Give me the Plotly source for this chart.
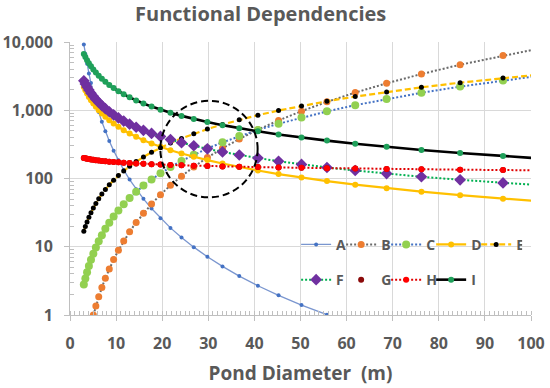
import plotly.graph_objects as go

# ---------------- data ----------------
diameter_m = [3.00, 3.33, 3.70, 4.10, 4.55, 5.06, 5.61, 6.23, 6.91, 7.67, 8.52, 9.46,
              10.50, 11.65, 12.93, 14.35, 15.93, 17.69, 19.63, 21.79, 24.19, 26.85,
              29.80, 33.08, 36.72, 40.76, 45.24, 50.22, 55.74, 61.87, 68.68, 76.23,
              84.62, 93.93, 104.26]

series_A = [9200, 6643, 4797, 3464, 2501, 1806, 1304, 941.8, 680.1, 491.1, 354.6, 256.1,
            184.9, 133.5, 96.4, 69.6, 50.3, 36.3, 26.2, 18.9, 13.7, 9.87, 7.13, 5.15,
            3.72, 2.68, 1.94, 1.40, 1.01, None, None, None, None, None, None]

series_B = [None, None, None, None, None, 1.0, 1.35, 1.85, 2.53, 3.46, 4.74, 6.48,
            8.86, 12.1, 16.6, 22.7, 31.0, 42.4, 58.0, 79.3, 108, 148, 203, 277,
            379, 519, 710, 970, 1327, 1815, 2482, 3395, 4643, 6350, 8684]

series_C = [2.79, 3.44, 4.24, 5.22, 6.43, 7.92, 9.76, 12.0, 14.8, 18.3, 22.5, 27.7,
            34.1, 42.1, 51.8, 63.9, 78.7, 97.0, 119, 147, 181, 223, 275, 339,
            418, 515, 634, 782, 963, 1187, 1462, 1802, 2220, 2735, 3370]

series_D = [2200, 1966, 1757, 1570, 1403, 1254, 1121, 1002, 895, 800, 715, 639,
            571, 510, 456, 408, 364, 326, 291, 260, 232, 208, 186, 166,
            147, 131, 116, 103, 91.6, 81.3, 72.2, 64.1, 56.9, 50.5, 44.9]

series_E = [16.9, 19.8, 23.1, 27.0, 31.6, 37.0, 43.2, 50.6, 59.1, 69.2, 80.9, 94.6,
            111, 129, 151, 177, 207, 242, 283, 331, 387, 453, 530, 619,
            724, 847, 991, 1159, 1355, 1585, 1853, 2167, 2535, 2964, 3467]

series_F = [2700, 2432, 2191, 1974, 1778, 1602, 1443, 1300, 1172, 1056, 951, 856,
            771, 695, 626, 564, 508, 458, 413, 372, 335, 302, 272, 245,
            221, 199, 179, 161, 145, 131, 118, 106, 95.7, 86.2, 77.7]

series_G = [200, 197.5, 195.1, 192.7, 190.3, 188.0, 185.7, 183.4, 181.1, 178.9, 176.7, 174.5,
            172.4, 170.3, 168.2, 166.1, 164.1, 162.1, 160.1, 158.1, 156.2, 154.2, 152.3, 150.5,
            148.6, 146.8, 145.0, 143.2, 141.4, 139.7, 138.0, 136.3, 134.6, 133.0, 131.3]

series_H = [200, 197.5, 195.1, 192.7, 190.3, 188.0, 185.7, 183.4, 181.1, 178.9, 176.7, 174.5,
            172.4, 170.3, 168.2, 166.1, 164.1, 162.1, 160.1, 158.1, 156.2, 154.2, 152.3, 150.5,
            148.6, 146.8, 145.0, 143.2, 141.4, 139.7, 138.0, 136.3, 134.6, 133.0, 131.3]

series_I = [6667, 6006, 5405, 4878, 4396, 3953, 3565, 3210, 2894, 2608, 2347, 2114,
            1905, 1717, 1547, 1394, 1255, 1131, 1019, 918, 827, 745, 671, 605,
            545, 491, 442, 398, 359, 323, 291, 262, 236, 213, 192]

series_names = ["A", "B", "C", "D", "E", "F", "G", "H", "I"]

y_tick_values = [1, 10, 100, 1000, 10000]
y_tick_labels = ["1", "10", "100", "1,000", "10,000"]

title_text = "Functional Dependencies"
x_title_text = "Pond Diameter\u00a0 (m)"

# circle highlight (data coordinates)
circle_x = [19.6, 40.7]
circle_y = [52.9, 1374]

# ---------------- styling ----------------
FONT = "Open Sans"
GREY = "#595959"

styles = {
    "A": dict(mode="lines+markers", line=dict(color="#7A96CF", width=1.3),
              marker=dict(color="#4472C4", size=4, symbol="circle"), legend="legend"),
    "B": dict(mode="lines+markers", line=dict(color="#6B6B6B", width=2, dash="2px,2px"),
              marker=dict(color="#ED7D31", size=7, symbol="circle"), legend="legend"),
    "C": dict(mode="lines+markers", line=dict(color="#4472C4", width=2, dash="2px,2px"),
              marker=dict(color="#92D050", size=8, symbol="circle"), legend="legend"),
    "D": dict(mode="lines+markers", line=dict(color="#FFC000", width=2.2),
              marker=dict(color="#FFC000", size=6, symbol="circle"), legend="legend"),
    "E": dict(mode="lines+markers", line=dict(color="#FFC000", width=2.2, dash="6px,3px"),
              marker=dict(color="#000000", size=5, symbol="circle"), legend="legend"),
    "F": dict(mode="lines+markers", line=dict(color="#00B050", width=2, dash="2px,2px"),
              marker=dict(color="#7030A0", size=9, symbol="diamond"), legend="legend2"),
    "G": dict(mode="markers",
              marker=dict(color="#8B0A0A", size=6, symbol="circle"), legend="legend2"),
    "H": dict(mode="lines+markers", line=dict(color="#E00000", width=2, dash="2px,2px"),
              marker=dict(color="#FF0000", size=6, symbol="circle"), legend="legend2"),
    "I": dict(mode="lines+markers", line=dict(color="#000000", width=2.6),
              marker=dict(color="#1FA05A", size=6, symbol="circle"), legend="legend2"),
}

all_series = [series_A, series_B, series_C, series_D, series_E,
              series_F, series_G, series_H, series_I]

fig = go.Figure()
for name, values in zip(series_names, all_series):
    fig.add_trace(go.Scatter(x=diameter_m, y=values, name=name, connectgaps=False,
                             hoverinfo="x+y+name", **styles[name]))

tick_font = dict(family=FONT, size=16, color=GREY, weight="bold")

minor_y = [m * d for d in (1, 10, 100, 1000) for m in range(2, 10)]

fig.update_xaxes(
    range=[0, 100], dtick=10, tick0=0,
    showgrid=True, gridcolor="#D9D9D9", gridwidth=1,
    showline=True, linecolor="#BFBFBF", linewidth=1,
    ticks="outside", ticklen=5, tickcolor="#BFBFBF",
    minor=dict(dtick=1, ticks="inside", ticklen=4, tickcolor="#BFBFBF", showgrid=False),
    zeroline=False, automargin=False,
    tickfont=tick_font, ticklabelstandoff=9, ticklabeloverflow="allow",
    title=dict(text=x_title_text, font=dict(family=FONT, size=19, color=GREY, weight="bold"),
               standoff=13),
)
fig.update_yaxes(
    type="log", range=[0, 4],
    tickmode="array", tickvals=y_tick_values, ticktext=y_tick_labels,
    showgrid=True, gridcolor="#D9D9D9", gridwidth=1,
    showline=True, linecolor="#BFBFBF", linewidth=1,
    ticks="outside", ticklen=5, tickcolor="#BFBFBF",
    minor=dict(tickmode="array", tickvals=minor_y, ticks="inside", ticklen=4,
               tickcolor="#BFBFBF", showgrid=False),
    zeroline=False, automargin=False,
    tickfont=tick_font, ticklabelstandoff=8,
)

fig.add_shape(type="circle", xref="x", yref="y",
              x0=circle_x[0], x1=circle_x[1], y0=circle_y[0], y1=circle_y[1],
              line=dict(color="#000000", width=2, dash="7px,4px"), layer="above")

legend_common = dict(orientation="h", xanchor="left", yanchor="middle",
                     entrywidth=0.01, entrywidthmode="pixels",
                     bgcolor="rgba(0,0,0,0)", borderwidth=0,
                     font=dict(family=FONT, size=14, color=GREY, weight="bold"))

fig.update_layout(
    width=550, height=388,
    margin=dict(l=70, r=19, t=42, b=73),
    paper_bgcolor="white", plot_bgcolor="white",
    title=dict(text=title_text, x=0.474, xanchor="center", xref="container",
               y=1 - 14 / 388, yanchor="middle", yref="container",
               font=dict(family=FONT, size=20, color=GREY, weight="bold")),
    showlegend=True,
    legend=dict(x=0.4905, y=0.257, **legend_common),
    legend2=dict(x=0.4905, y=0.128, **legend_common),
)

fig.write_html("out.html",
               config={"displayModeBar": False},
               post_script="document.body.style.margin='0px';document.body.style.overflow='hidden';")
